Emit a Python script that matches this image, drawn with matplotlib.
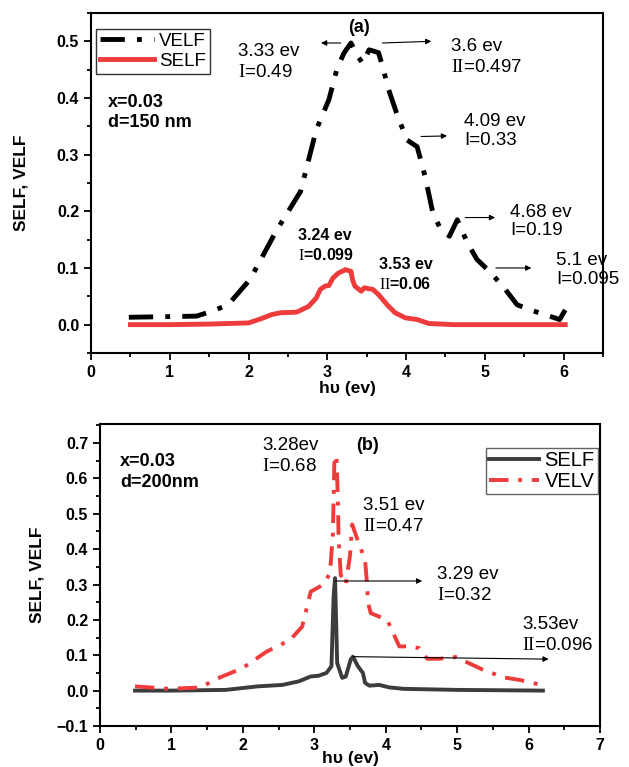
import numpy as np
import matplotlib.pyplot as plt
from matplotlib.ticker import MultipleLocator

plt.rcParams['font.family'] = ['Liberation Sans', 'DejaVu Sans']
plt.rcParams['mathtext.fontset'] = 'custom'
plt.rcParams['mathtext.rm'] = 'Liberation Serif'
plt.rcParams['mathtext.bf'] = 'Liberation Serif:bold'

# panel (a) : x=0.03, d=150 nm
velf_a_x = [0.48, 1.34, 1.54, 1.74, 2.02, 2.35, 2.66, 2.86, 3.02, 3.12, 3.21, 3.30, 3.39, 3.45,
            3.53, 3.65, 3.70, 3.78, 3.88, 4.01, 4.14, 4.24, 4.34, 4.44, 4.55, 4.65, 4.78, 4.90,
            5.08, 5.26, 5.41, 5.62, 5.82, 5.95, 6.02]
velf_a_y = [0.013, 0.015, 0.024, 0.035, 0.080, 0.165, 0.235, 0.344, 0.397, 0.450, 0.479, 0.497,
            0.473, 0.461, 0.485, 0.480, 0.456, 0.414, 0.373, 0.326, 0.314, 0.262, 0.197, 0.168,
            0.156, 0.185, 0.144, 0.115, 0.091, 0.062, 0.035, 0.024, 0.015, 0.009, 0.026]
self_a_x = [0.50, 1.00, 1.50, 2.00, 2.15, 2.30, 2.41, 2.61, 2.76, 2.86, 2.91, 2.97, 3.02, 3.07,
            3.14, 3.23, 3.30, 3.32, 3.35, 3.43, 3.47, 3.58, 3.65, 3.76, 3.86, 3.99, 4.14, 4.29,
            4.60, 5.00, 5.50, 6.02]
self_a_y = [0.000, 0.000, 0.001, 0.003, 0.010, 0.018, 0.021, 0.022, 0.032, 0.047, 0.062, 0.068,
            0.069, 0.082, 0.091, 0.097, 0.094, 0.079, 0.068, 0.059, 0.065, 0.062, 0.053, 0.035,
            0.021, 0.012, 0.009, 0.002, 0.000, 0.000, 0.000, 0.000]

# panel (b) : x=0.03, d=200 nm
self_b_x = [0.49, 1.00, 1.76, 2.21, 2.55, 2.78, 2.95, 3.06, 3.17, 3.24, 3.27, 3.29, 3.32, 3.39,
            3.44, 3.51, 3.54, 3.61, 3.68, 3.71, 3.77, 3.91, 4.05, 4.25, 5.00, 6.20]
self_b_y = [0.000, 0.000, 0.002, 0.012, 0.016, 0.026, 0.040, 0.042, 0.050, 0.069, 0.266, 0.318,
            0.078, 0.036, 0.040, 0.088, 0.096, 0.069, 0.050, 0.022, 0.014, 0.016, 0.009, 0.005,
            0.002, 0.000]
velv_b_x = [0.49, 0.97, 1.42, 1.59, 1.99, 2.33, 2.66, 2.83, 2.95, 3.12, 3.22, 3.26, 3.28, 3.31,
            3.33, 3.34, 3.37, 3.44, 3.50, 3.53, 3.62, 3.71, 3.74, 3.75, 3.79, 4.02, 4.19, 4.33,
            4.47, 4.58, 4.75, 4.98, 5.37, 5.66, 5.88, 6.22]
velv_b_y = [0.012, 0.005, 0.009, 0.030, 0.063, 0.110, 0.143, 0.181, 0.280, 0.299, 0.332, 0.445,
            0.643, 0.666, 0.540, 0.430, 0.327, 0.300, 0.383, 0.470, 0.418, 0.370, 0.297, 0.250,
            0.219, 0.200, 0.125, 0.125, 0.120, 0.090, 0.090, 0.095, 0.058, 0.037, 0.030, 0.014]

red = '#ee3b3b'
gray = '#3c3c3c'

fig = plt.figure(figsize=(6.29, 7.67), dpi=100)
ax1 = fig.add_axes([0.1447, 0.5398, 0.814, 0.4433])
ax2 = fig.add_axes([0.159, 0.0535, 0.795, 0.3937])


def style(ax, lpad):
    for s in ax.spines.values():
        s.set_linewidth(1.5)
    ax.tick_params(which='both', direction='out', width=1.3, top=False, right=False)
    ax.tick_params(which='major', length=5, labelsize=11.5)
    ax.tick_params(which='minor', length=3)
    for lab in ax.get_xticklabels() + ax.get_yticklabels():
        lab.set_fontweight('bold')
    ax.set_xlabel('h\u03c5 (ev)', fontsize=12.5, fontweight='bold', labelpad=lpad)
    ax.set_ylabel('SELF, VELF', fontsize=12.5, fontweight='bold')


def arrow(ax, x0, y0, x1, y1):
    ax.annotate('', xy=(x1, y1), xytext=(x0, y0),
                arrowprops=dict(arrowstyle='-|>', color='k', lw=0.8, mutation_scale=8,
                                shrinkA=0, shrinkB=0))


fs = 13.5

# ---- panel (a)
ax1.plot(velf_a_x, velf_a_y, color='k', lw=3.5, dashes=(5, 2.5, 1, 2.5), label='VELF')
ax1.plot(self_a_x, self_a_y, color=red, lw=3.5, label='SELF')
ax1.set_xlim(0, 6.5)
ax1.set_ylim(-0.05, 0.55)
ax1.xaxis.set_major_locator(MultipleLocator(1))
ax1.xaxis.set_minor_locator(MultipleLocator(0.5))
ax1.yaxis.set_minor_locator(MultipleLocator(0.05))
ax1.set_yticks([0.0, 0.1, 0.2, 0.3, 0.4, 0.5])
style(ax1, 1)
ax1.yaxis.set_label_coords(-0.123, 0.5)
ax1.legend(loc='upper left', bbox_to_anchor=(0.01, 0.953), fontsize=13.5, frameon=True,
           fancybox=False, edgecolor='k', handlelength=2.9, handletextpad=0.25,
           borderpad=0.2, labelspacing=0.15, borderaxespad=0).get_frame().set_linewidth(1)

ax1.text(0.21, 0.375, 'x=0.03\nd=150 nm', fontsize=13, fontweight='bold', va='center',
         linespacing=1.25)
ax1.text(3.40, 0.524, '(a)', fontsize=13, fontweight='bold', ha='center', va='center')
ax1.text(1.87, 0.463, '3.33 ev\n$\\mathrm{I}$=0.49', fontsize=fs, va='center', linespacing=1.3)
arrow(ax1, 3.17, 0.497, 2.92, 0.497)
ax1.text(4.57, 0.473, '3.6 ev\n$\\mathrm{II}$=0.497', fontsize=fs, va='center', linespacing=1.3)
arrow(ax1, 3.70, 0.497, 4.32, 0.500)
ax1.text(4.74, 0.342, '4.09 ev\nI=0.33', fontsize=fs, va='center', linespacing=1.15)
arrow(ax1, 4.19, 0.332, 4.52, 0.333)
ax1.text(5.32, 0.182, '4.68 ev\nI=0.19', fontsize=fs, va='center', linespacing=1.15)
arrow(ax1, 4.75, 0.189, 5.13, 0.189)
ax1.text(5.90, 0.097, '5.1 ev\nI=0.095', fontsize=fs, va='center', linespacing=1.15)
arrow(ax1, 5.14, 0.100, 5.59, 0.100)
ax1.text(2.63, 0.140, '3.24 ev\n$\\mathrm{I}$=0.099', fontsize=11.5, fontweight='bold',
         va='center', linespacing=1.3)
ax1.text(3.66, 0.089, '3.53 ev\n$\\mathrm{II}$=0.06', fontsize=11.5, fontweight='bold',
         va='center', linespacing=1.3)

# ---- panel (b)
ax2.plot(self_b_x, self_b_y, color=gray, lw=2.8, label='SELF')
ax2.plot(velv_b_x, velv_b_y, color=red, lw=2.8, dashes=(5, 2.5, 1, 2.5), label='VELV')
ax2.set_xlim(0, 7)
ax2.set_ylim(-0.1, 0.754)
ax2.xaxis.set_major_locator(MultipleLocator(1))
ax2.xaxis.set_minor_locator(MultipleLocator(0.5))
ax2.yaxis.set_minor_locator(MultipleLocator(0.05))
ax2.set_yticks([-0.1, 0.0, 0.1, 0.2, 0.3, 0.4, 0.5, 0.6, 0.7])
style(ax2, -1)
ax2.yaxis.set_label_coords(-0.112, 0.5)
ax2.legend(loc='upper right', bbox_to_anchor=(0.995, 0.92), fontsize=14.5, frameon=True,
           fancybox=False, edgecolor=gray, handlelength=2.5, handletextpad=0.25,
           borderpad=0.15, labelspacing=0.1, borderaxespad=0).get_frame().set_linewidth(1)

ax2.text(0.28, 0.619, 'x=0.03\nd=200nm', fontsize=13, fontweight='bold', va='center',
         linespacing=1.3)
ax2.text(3.75, 0.692, '(b)', fontsize=13, fontweight='bold', ha='center', va='center')
ax2.text(2.27, 0.664, '3.28ev\n$\\mathrm{I}$=0.68', fontsize=fs, va='center', linespacing=1.3)
ax2.text(3.68, 0.495, '3.51 ev\n$\\mathrm{II}$=0.47', fontsize=fs, va='center', linespacing=1.3)
ax2.text(4.72, 0.298, '3.29 ev\n$\\mathrm{I}$=0.32', fontsize=fs, va='center', linespacing=1.3)
arrow(ax2, 3.29, 0.31, 4.51, 0.31)
ax2.text(5.91, 0.157, '3.53ev\n$\\mathrm{II}$=0.096', fontsize=fs, va='center', linespacing=1.3)
arrow(ax2, 3.54, 0.096, 6.28, 0.089)

fig.savefig('out.png', dpi=100)
